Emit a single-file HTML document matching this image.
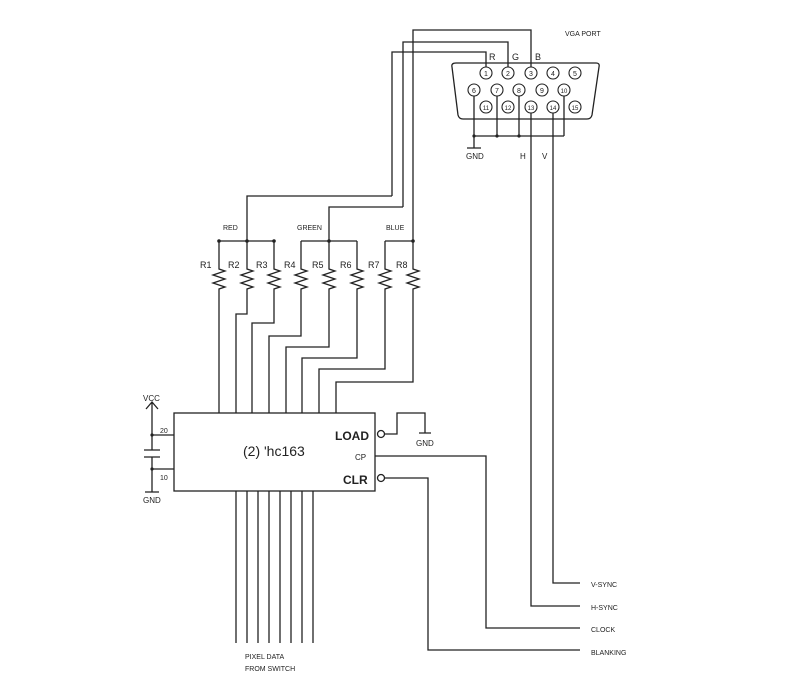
<!DOCTYPE html>
<html><head><meta charset="utf-8"><style>
html,body{margin:0;padding:0;background:#fff;}
svg{display:block;}
text{font-family:"Liberation Sans",sans-serif;fill:#222;}
.p{font-size:7px;text-anchor:middle;}
</style></head><body>
<svg width="800" height="699" viewBox="0 0 800 699" xmlns="http://www.w3.org/2000/svg">
<g stroke="#222" stroke-width="1.3" fill="none">
<path d="M456,63 L596,63 Q600,63 599,67 L592,115 Q591,119 587,119 L463,119 Q459,119 458,115 L452,67 Q451,63 456,63 Z"/>
<g stroke-width="1.1">
<circle cx="486" cy="73" r="6"/><circle cx="508" cy="73" r="6"/><circle cx="531" cy="73" r="6"/><circle cx="553" cy="73" r="6"/><circle cx="575" cy="73" r="6"/>
<circle cx="474" cy="90" r="6"/><circle cx="497" cy="90" r="6"/><circle cx="519" cy="90" r="6"/><circle cx="542" cy="90" r="6"/><circle cx="564" cy="90" r="6"/>
<circle cx="486" cy="107" r="6"/><circle cx="508" cy="107" r="6"/><circle cx="531" cy="107" r="6"/><circle cx="553" cy="107" r="6"/><circle cx="575" cy="107" r="6"/>
</g>
<path d="M413,241 V30 H531 V67"/>
<path d="M403,207 V42 H508 V67"/>
<path d="M392,196 V52 H486 V67"/>
<path d="M247,241 V196 H392"/>
<path d="M329,241 V207 H403"/>
<path d="M474,96 V136 M497,96 V136 M519,96 V136 M564,96 V136 M474,136 H564 M474,136 V148 M467,148 H481"/>
<path d="M531,113 V606 H580"/>
<path d="M553,113 V583 H580"/>
<path d="M219,241 H274 M301,241 H357 M385,241 H413"/>
<path d="M219,241 V269 l6,2 -12,4 12,4 -12,4 12,4 -6,2 V413"/>
<path d="M247,241 V269 l6,2 -12,4 12,4 -12,4 12,4 -6,2 V314 H236 V413"/>
<path d="M274,241 V269 l6,2 -12,4 12,4 -12,4 12,4 -6,2 V323 H252 V413"/>
<path d="M301,241 V269 l6,2 -12,4 12,4 -12,4 12,4 -6,2 V336 H269 V413"/>
<path d="M329,241 V269 l6,2 -12,4 12,4 -12,4 12,4 -6,2 V347 H286 V413"/>
<path d="M357,241 V269 l6,2 -12,4 12,4 -12,4 12,4 -6,2 V358 H302 V413"/>
<path d="M385,241 V269 l6,2 -12,4 12,4 -12,4 12,4 -6,2 V369 H319 V413"/>
<path d="M413,241 V269 l6,2 -12,4 12,4 -12,4 12,4 -6,2 V382 H336 V413"/>
<rect x="174" y="413" width="201" height="78"/>
<path d="M236,491 V643 M247,491 V643 M258,491 V643 M269,491 V643 M280,491 V643 M291,491 V643 M302,491 V643 M313,491 V643"/>
<path d="M146,409 L152,402 L158,409 M152,402 V450 M144,450 H160 M144,457 H160 M152,457 V492 M145,492 H159 M152,435 H174 M152,469 H174"/>
<circle cx="381" cy="434" r="3.5"/>
<path d="M385,434 H397 V413 H425 V433 M419,433 H431"/>
<path d="M375,456 H486 V628 H580"/>
<circle cx="381" cy="478" r="3.5"/>
<path d="M385,478 H428 V650 H580"/>
</g>
<g fill="#222">
<circle cx="474" cy="136" r="1.6"/><circle cx="497" cy="136" r="1.6"/><circle cx="519" cy="136" r="1.6"/>
<circle cx="219" cy="241" r="1.8"/><circle cx="247" cy="241" r="1.8"/><circle cx="274" cy="241" r="1.8"/>
<circle cx="329" cy="241" r="1.8"/><circle cx="413" cy="241" r="1.8"/>
<circle cx="152" cy="435" r="1.6"/><circle cx="152" cy="469" r="1.6"/>
</g>
<g class="p">
<text x="486" y="76">1</text><text x="508" y="76">2</text><text x="531" y="76">3</text><text x="553" y="76">4</text><text x="575" y="76">5</text>
<text x="474" y="93">6</text><text x="497" y="93">7</text><text x="519" y="93">8</text><text x="542" y="93">9</text><text x="564" y="93" font-size="6">10</text>
<text x="486" y="110" font-size="6">11</text><text x="508" y="110" font-size="6">12</text><text x="531" y="110" font-size="6">13</text><text x="553" y="110" font-size="6">14</text><text x="575" y="110" font-size="6">15</text>
</g>
<g>
<text x="565" y="36" font-size="7">VGA PORT</text>
<text x="489" y="60" font-size="9">R</text><text x="512" y="60" font-size="9">G</text><text x="535" y="60" font-size="9">B</text>
<text x="466" y="159" font-size="8">GND</text><text x="520" y="159" font-size="8">H</text><text x="542" y="159" font-size="8">V</text>
<text x="223" y="230" font-size="7">RED</text><text x="297" y="230" font-size="7">GREEN</text><text x="386" y="230" font-size="7">BLUE</text>
<text x="200" y="268" font-size="9">R1</text><text x="228" y="268" font-size="9">R2</text><text x="256" y="268" font-size="9">R3</text><text x="284" y="268" font-size="9">R4</text>
<text x="312" y="268" font-size="9">R5</text><text x="340" y="268" font-size="9">R6</text><text x="368" y="268" font-size="9">R7</text><text x="396" y="268" font-size="9">R8</text>
<text x="143" y="401" font-size="8">VCC</text>
<text x="160" y="433" font-size="7">20</text><text x="160" y="480" font-size="7">10</text>
<text x="143" y="503" font-size="8">GND</text>
<text x="243" y="456" font-size="14">(2) 'hc163</text>
<text x="335" y="440" font-size="12" font-weight="bold">LOAD</text>
<text x="355" y="460" font-size="8">CP</text>
<text x="343" y="484" font-size="12" font-weight="bold">CLR</text>
<text x="416" y="446" font-size="8">GND</text>
<text x="591" y="587" font-size="7">V-SYNC</text><text x="591" y="610" font-size="7">H-SYNC</text>
<text x="591" y="632" font-size="7">CLOCK</text><text x="591" y="655" font-size="7">BLANKING</text>
<text x="245" y="659" font-size="7">PIXEL DATA</text><text x="245" y="671" font-size="7">FROM SWITCH</text>
</g>
</svg>
</body></html>
